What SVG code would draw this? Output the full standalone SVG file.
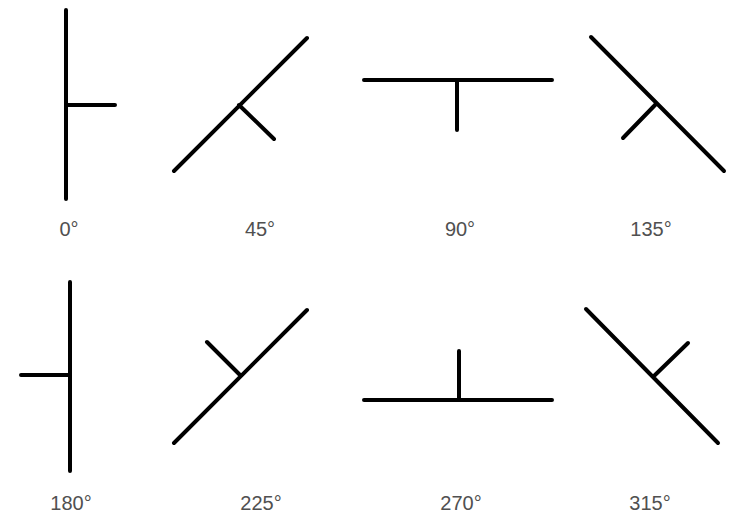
<svg xmlns="http://www.w3.org/2000/svg" width="729" height="514" viewBox="0 0 729 514">
<style>
.s{stroke:#000;stroke-width:4;stroke-linecap:round;fill:none}
.t{font-family:"Liberation Sans",Arial,sans-serif;font-size:20px;fill:#505050;text-anchor:middle}
</style>
<rect width="729" height="514" fill="#fff"/>
<g id="sym0"><path class="s" d="M66 10V199M66 105H115"/><text class="t" x="69" y="236">0°</text></g>
<g id="sym45"><path class="s" d="M174 171L307 38M239 105L274 139"/><text class="t" x="260" y="236">45°</text></g>
<g id="sym90"><path class="s" d="M364 80H552M457 80V130"/><text class="t" x="460" y="236">90°</text></g>
<g id="sym135"><path class="s" d="M591 37L724 171M656 104L623 138"/><text class="t" x="651" y="236">135°</text></g>
<g id="sym180"><path class="s" d="M70 282V471M21 375H70"/><text class="t" x="71" y="510">180°</text></g>
<g id="sym225"><path class="s" d="M174 443L307 310M240 375L207 342"/><text class="t" x="261" y="510">225°</text></g>
<g id="sym270"><path class="s" d="M364 400H552M459 351V400"/><text class="t" x="461" y="510">270°</text></g>
<g id="sym315"><path class="s" d="M586 309L718 443M654 376L688 343"/><text class="t" x="650" y="510">315°</text></g>
<g id="connectors"/>
</svg>
